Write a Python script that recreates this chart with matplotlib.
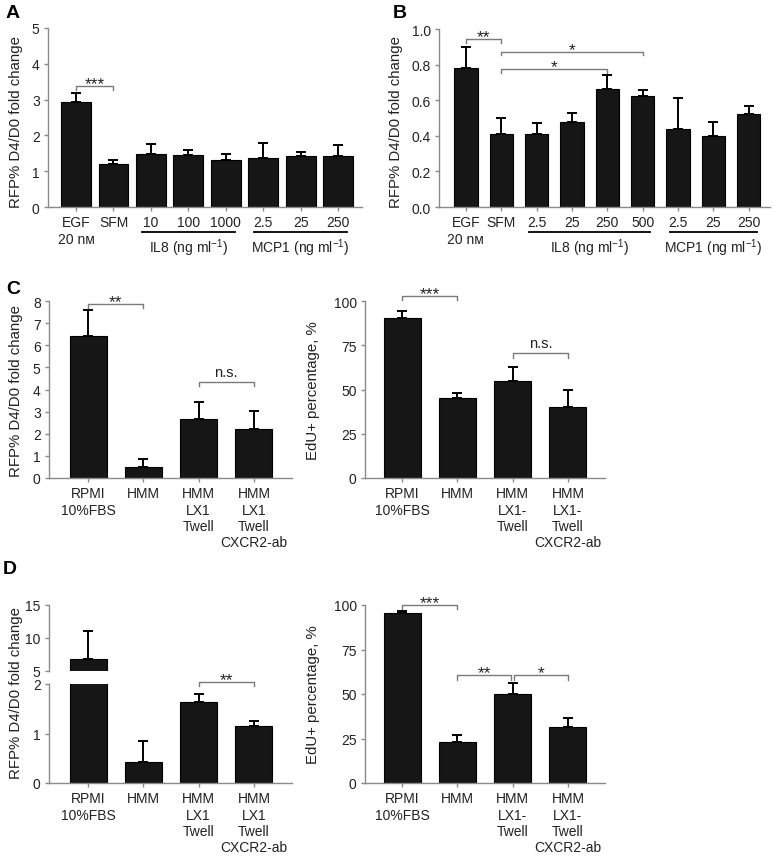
import matplotlib.pyplot as plt
from matplotlib.transforms import blended_transform_factory

plt.rcParams['font.family'] = ['Liberation Sans', 'DejaVu Sans']
plt.rcParams['mathtext.fontset'] = 'custom'
plt.rcParams['mathtext.rm'] = 'Liberation Sans'
plt.rcParams['mathtext.it'] = 'Liberation Sans:italic'
plt.rcParams['font.size'] = 10

TXT = '#222222'
SPINE = '#8a8a8a'
BAR = '#161616'
W, H = 774, 862

# panel A
a_labels = ['EGF\n20 nᴍ', 'SFM', '10', '100', '1000', '2.5', '25', '250']
a_mean = [2.93, 1.20, 1.47, 1.45, 1.32, 1.38, 1.42, 1.42]
a_err = [0.25, 0.10, 0.28, 0.15, 0.16, 0.40, 0.11, 0.31]

# panel B
b_labels = ['EGF\n20 nᴍ', 'SFM', '2.5', '25', '250', '500', '2.5', '25', '250']
b_mean = [0.78, 0.41, 0.41, 0.48, 0.665, 0.625, 0.44, 0.40, 0.52]
b_err = [0.12, 0.09, 0.06, 0.05, 0.075, 0.035, 0.175, 0.08, 0.05]

# panel C
c_labels_l = ['RPMI\n10%FBS', 'HMM', 'HMM\nLX1\nTwell', 'HMM\nLX1\nTwell\nCXCR2-ab']
c_labels_r = ['RPMI\n10%FBS', 'HMM', 'HMM\nLX1-\nTwell', 'HMM\nLX1-\nTwell\nCXCR2-ab']
c_rfp = [6.4, 0.48, 2.65, 2.22]
c_rfp_err = [1.2, 0.37, 0.8, 0.83]
c_edu = [90.4, 45.2, 54.8, 40.1]
c_edu_err = [3.9, 2.8, 7.9, 9.6]

# panel D
d_rfp = [6.8, 0.43, 1.64, 1.15]
d_rfp_err = [4.2, 0.42, 0.16, 0.11]
d_edu = [95.5, 23.0, 50.0, 31.5]
d_edu_err = [1.0, 4.0, 6.0, 5.0]

fig = plt.figure(figsize=(W / 100, H / 100), dpi=100, facecolor='white')


def make_ax(x0, y0, x1, y1):
    return fig.add_axes([x0 / W, 1 - y1 / H, (x1 - x0) / W, (y1 - y0) / H])


def style(ax):
    for s in ['top', 'right']:
        ax.spines[s].set_visible(False)
    for s in ['left', 'bottom']:
        ax.spines[s].set_color(SPINE)
        ax.spines[s].set_linewidth(1.0)
    ax.tick_params(direction='out', length=3, width=1, color=SPINE,
                   labelcolor=TXT, pad=3, labelsize=10)
    ax.patch.set_alpha(0)


def bars(ax, mean, err, width):
    x = list(range(len(mean)))
    ax.bar(x, mean, width, color=BAR, edgecolor='black', linewidth=0.8, zorder=2)
    ax.errorbar(x, mean, yerr=[[0] * len(err), err], fmt='none', ecolor='black',
                elinewidth=1.4, capsize=3.5, capthick=1.4, zorder=3)
    return x


def bracket(ax, x1, x2, y, h, text, off=-1.5, size=12.5):
    ax.plot([x1, x1, x2, x2], [y - h, y, y, y - h], color='#7a7a7a', lw=1,
            clip_on=False)
    ax.annotate(text, xy=((x1 + x2) / 2, y), xytext=(0, off),
                textcoords='offset points', ha='center', va='baseline',
                fontsize=size, color=TXT, annotation_clip=False)


def groups(ax, spec, pad, y_line, y_text):
    tr = blended_transform_factory(ax.transData, fig.transFigure)
    for label, s, e in spec:
        ax.plot([s - pad, e + pad], [1 - y_line / H] * 2, transform=tr,
                color='black', lw=1.3, clip_on=False)
        ax.text((s + e) / 2, 1 - y_text / H, label, transform=tr,
                ha='center', va='center', color=TXT, fontsize=10)


def ylab(x, y, text):
    fig.text(x / W, 1 - y / H, text, rotation=90, ha='center', va='center',
             color=TXT, fontsize=10.8)


def letter(x, y, text):
    fig.text(x / W, 1 - y / H, text, ha='left', va='center', fontsize=14,
             fontweight='bold', color='black')


# ---- A ----
ax = make_ax(48, 29, 362, 208)
style(ax)
x = bars(ax, a_mean, a_err, 0.8)
ax.set_xlim(-0.75, 7.64)
ax.set_ylim(0, 5)
ax.set_yticks([0, 1, 2, 3, 4, 5])
ax.set_xticks(x)
ax.set_xticklabels(a_labels)
bracket(ax, 0, 1, 3.38, 0.11, '***')
groups(ax, [('IL8 (ng ml$^{-1}$)', 2, 4), ('MCP1 (ng ml$^{-1}$)', 5, 7)],
       0.25, 233, 248)
ylab(16, 122, 'RFP% D4/D0 fold change')
letter(6, 14, 'A')

# ---- B ----
ax = make_ax(439, 30, 770, 208)
style(ax)
x = bars(ax, b_mean, b_err, 0.66)
ax.set_xlim(-0.76, 8.6)
ax.set_ylim(0, 1.0)
ax.set_yticks([0, 0.2, 0.4, 0.6, 0.8, 1.0])
ax.set_yticklabels(['0.0', '0.2', '0.4', '0.6', '0.8', '1.0'])
ax.set_xticks(x)
ax.set_xticklabels(b_labels)
bracket(ax, 0, 1, 0.944, 0.02, '**')
bracket(ax, 1, 5, 0.872, 0.02, '*')
bracket(ax, 1, 4, 0.775, 0.02, '*')
groups(ax, [('IL8 (ng ml$^{-1}$)', 2, 5), ('MCP1 (ng ml$^{-1}$)', 6, 8)],
       0.22, 233, 248)
ylab(396, 122, 'RFP% D4/D0 fold change')
letter(393, 14, 'B')

# ---- C left ----
ax = make_ax(49, 302, 292, 479)
style(ax)
x = bars(ax, c_rfp, c_rfp_err, 0.67)
ax.set_xlim(-0.71, 3.69)
ax.set_ylim(0, 8)
ax.set_yticks(range(9))
ax.set_xticks(x)
ax.set_xticklabels(c_labels_l)
bracket(ax, 0, 1, 7.87, 0.2, '**')
bracket(ax, 2, 3, 4.34, 0.2, 'n.s.', off=4, size=10.5)
ylab(16, 391, 'RFP% D4/D0 fold change')
letter(6, 289, 'C')

# ---- C right ----
ax = make_ax(365, 302, 605, 479)
style(ax)
x = bars(ax, c_edu, c_edu_err, 0.67)
ax.set_xlim(-0.67, 3.67)
ax.set_ylim(0, 100)
ax.set_yticks([0, 25, 50, 75, 100])
ax.set_xticks(x)
ax.set_xticklabels(c_labels_r)
bracket(ax, 0, 1, 102.8, 2.2, '***')
bracket(ax, 2, 3, 70.6, 2.6, 'n.s.', off=4, size=10.5)
ylab(313, 391, 'EdU+ percentage, %')

# ---- D left (broken axis) ----
ax_top = make_ax(49, 606, 292, 672)
ax_bot = make_ax(49, 685, 292, 784)
for a in (ax_top, ax_bot):
    style(a)
    bars(a, d_rfp, d_rfp_err, 0.67)
    a.set_xlim(-0.71, 3.69)
ax_top.set_ylim(5, 15)
ax_top.set_yticks([5, 10, 15])
ax_top.spines['bottom'].set_visible(False)
ax_top.tick_params(axis='x', bottom=False, labelbottom=False)
ax_bot.set_ylim(0, 2)
ax_bot.set_yticks([0, 1, 2])
ax_bot.set_xticks(range(len(d_rfp)))
ax_bot.set_xticklabels(c_labels_l)
bracket(ax_bot, 2, 3, 2.04, 0.08, '**')
ylab(16, 693, 'RFP% D4/D0 fold change')
letter(3, 570, 'D')

# ---- D right ----
ax = make_ax(365, 606, 605, 784)
style(ax)
x = bars(ax, d_edu, d_edu_err, 0.67)
ax.set_xlim(-0.67, 3.67)
ax.set_ylim(0, 100)
ax.set_yticks([0, 25, 50, 75, 100])
ax.set_xticks(x)
ax.set_xticklabels(c_labels_r)
bracket(ax, 0, 1, 100, 2.0, '***')
bracket(ax, 1, 1.97, 60.4, 2.6, '**')
bracket(ax, 2.03, 3, 60.4, 2.6, '*')
ylab(313, 695, 'EdU+ percentage, %')

fig.savefig('out.png', dpi=100, facecolor='white')
